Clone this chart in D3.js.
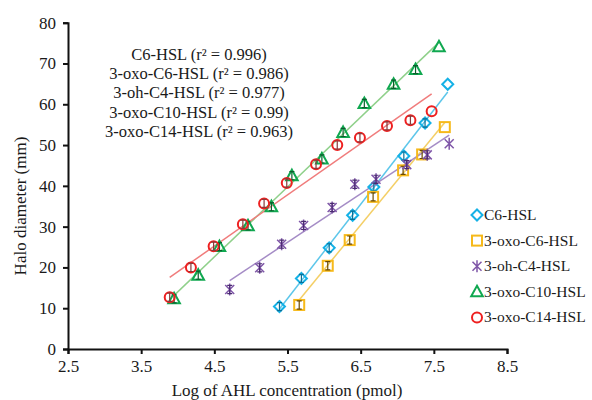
<!DOCTYPE html>
<html>
<head>
    <script src="https://cdnjs.cloudflare.com/ajax/libs/d3/7.8.5/d3.min.js"></script>
    <style>
        body { margin: 0; background: #fff; }
        svg text { font-family: "Liberation Serif", "Times New Roman", serif; fill: #1a1a1a; }
    </style>
</head>
<body>
    <div id="chart"></div>
    <script>
        // Data (x = log of AHL concentration, y = halo diameter in mm)
        const c6X = [5.39, 5.69, 6.07, 6.39, 6.68, 7.09, 7.38, 7.69];
        const c6Y = [10.4, 17.3, 24.8, 32.8, 39.7, 47.3, 55.4, 64.9];

        const oxoC6X = [5.66, 6.05, 6.35, 6.67, 7.08, 7.34, 7.65];
        const oxoC6Y = [10.8, 20.4, 26.7, 37.3, 43.8, 47.7, 54.4];

        const ohC4X = [4.71, 5.12, 5.42, 5.72, 6.11, 6.42, 6.71, 7.13, 7.41, 7.71];
        const ohC4Y = [14.6, 19.9, 25.7, 30.3, 34.7, 40.4, 41.6, 45.2, 47.6, 50.3];

        const oxoC10X = [3.95, 4.28, 4.57, 4.96, 5.28, 5.56, 5.97, 6.26, 6.55, 6.95, 7.25, 7.57];
        const oxoC10Y = [12.3, 18.1, 25.1, 30.2, 34.9, 42.5, 46.6, 53.1, 60.2, 64.9, 68.5, 74.1];

        const oxoC14X = [3.89, 4.18, 4.49, 4.89, 5.18, 5.49, 5.89, 6.18, 6.49, 6.86, 7.18, 7.47];
        const oxoC14Y = [12.7, 20.0, 25.2, 30.6, 35.7, 40.7, 45.3, 50.0, 51.8, 54.7, 56.1, 58.3];

        const seriesNames = ["C6-HSL", "3-oxo-C6-HSL", "3-oh-C4-HSL", "3-oxo-C10-HSL", "3-oxo-C14-HSL"];
        const r2Values = ["0.996", "0.986", "0.977", "0.99", "0.963"];

        const xTicks = [2.5, 3.5, 4.5, 5.5, 6.5, 7.5, 8.5];
        const yTicks = [0, 10, 20, 30, 40, 50, 60, 70, 80];
        const errHalf = 0.5;

        const series = [
            { name: seriesNames[0], xs: c6X, ys: c6Y, shape: "diamond", color: "#14b1e6", bar: "#0a6f96", line: "#5cc6ea" },
            { name: seriesNames[1], xs: oxoC6X, ys: oxoC6Y, shape: "square", color: "#f6b91a", bar: "#6b4a00", line: "#f4cf66" },
            { name: seriesNames[2], xs: ohC4X, ys: ohC4Y, shape: "star", color: "#7f56a8", bar: "#4a2a70", line: "#a58cc6" },
            { name: seriesNames[3], xs: oxoC10X, ys: oxoC10Y, shape: "triangle", color: "#10a850", bar: "#0b5e2c", line: "#8fd08a" },
            { name: seriesNames[4], xs: oxoC14X, ys: oxoC14Y, shape: "circle", color: "#ee2020", bar: "#8a3a3a", line: "#f07c7c" }
        ];

        const width = 592;
        const height = 400;

        const svg = d3.select("#chart")
            .append("svg")
            .attr("width", width)
            .attr("height", height);

        const x = d3.scaleLinear().domain([2.5, 8.5]).range([68, 507]);
        const y = d3.scaleLinear().domain([0, 80]).range([349, 22.7]);

        // axes
        svg.append("g")
            .attr("transform", "translate(0,349)")
            .call(d3.axisBottom(x).tickValues(xTicks).tickSize(5).tickPadding(6).tickFormat(d3.format(".1f")))
            .call(g => g.selectAll("text").style("font-size", "17px").attr("fill", "#1a1a1a"));

        svg.append("g")
            .attr("transform", "translate(68,0)")
            .call(d3.axisLeft(y).tickValues(yTicks).tickSize(5).tickPadding(7))
            .call(g => g.selectAll("text").style("font-size", "17px").attr("fill", "#1a1a1a"));

        svg.selectAll(".domain, .tick line")
            .attr("stroke", "#111")
            .attr("stroke-width", 2);

        // axis titles
        svg.append("text")
            .attr("x", 287)
            .attr("y", 396)
            .attr("text-anchor", "middle")
            .style("font-size", "17px")
            .text("Log of AHL concentration (pmol)");

        svg.append("text")
            .attr("transform", "translate(26,206) rotate(-90)")
            .attr("text-anchor", "middle")
            .style("font-size", "17px")
            .text("Halo diameter (mm)");

        // least squares trendline
        function fit(xs, ys) {
            const mx = d3.mean(xs), my = d3.mean(ys);
            let sxy = 0, sxx = 0;
            xs.forEach((v, i) => { sxy += (v - mx) * (ys[i] - my); sxx += (v - mx) * (v - mx); });
            const b = sxy / sxx;
            return { b: b, a: my - b * mx };
        }

        series.forEach(s => {
            const f = fit(s.xs, s.ys);
            const x0 = d3.min(s.xs), x1 = d3.max(s.xs);
            svg.append("line")
                .attr("x1", x(x0)).attr("y1", y(f.a + f.b * x0))
                .attr("x2", x(x1)).attr("y2", y(f.a + f.b * x1))
                .attr("stroke", s.line)
                .attr("stroke-width", 1.5);
        });

        function drawMarker(g, shape, color) {
            if (shape === "circle") {
                g.append("circle").attr("r", 5).attr("fill", "none").attr("stroke", color).attr("stroke-width", 2);
            } else if (shape === "square") {
                g.append("rect").attr("x", -5).attr("y", -5).attr("width", 10).attr("height", 10)
                    .attr("fill", "none").attr("stroke", color).attr("stroke-width", 2);
            } else if (shape === "diamond") {
                g.append("path").attr("d", "M0,-5.5L5.5,0L0,5.5L-5.5,0Z")
                    .attr("fill", "none").attr("stroke", color).attr("stroke-width", 2);
            } else if (shape === "triangle") {
                g.append("path").attr("d", "M0,-6L5.8,4.5L-5.8,4.5Z")
                    .attr("fill", "none").attr("stroke", color).attr("stroke-width", 2);
            } else {
                g.append("path").attr("d", "M-4.5,-4.5L4.5,4.5M-4.5,4.5L4.5,-4.5M0,-6L0,6")
                    .attr("fill", "none").attr("stroke", color).attr("stroke-width", 1.5);
            }
        }

        // points with small error bars
        series.forEach(s => {
            const pts = s.xs.map((v, i) => ({ x: v, y: s.ys[i], last: i === s.xs.length - 1 }));
            const g = svg.append("g");
            pts.forEach(p => {
                const m = g.append("g").attr("transform", `translate(${x(p.x)},${y(p.y)})`);
                drawMarker(m, s.shape, s.color);
                if (!p.last) {
                    const dy = y(0) - y(errHalf * 2);
                    m.append("path")
                        .attr("d", `M0,${-dy}L0,${dy}M-2.5,${-dy}L2.5,${-dy}M-2.5,${dy}L2.5,${dy}`)
                        .attr("stroke", s.bar)
                        .attr("stroke-width", 1.2)
                        .attr("fill", "none");
                }
            });
        });

        // r² annotation
        const note = svg.append("text")
            .attr("text-anchor", "middle")
            .style("font-size", "16.5px");
        seriesNames.forEach((n, i) => {
            note.append("tspan")
                .attr("x", 199)
                .attr("y", 60 + i * 19.2)
                .text(`${n} (r² = ${r2Values[i]})`);
        });

        // legend
        const legend = svg.append("g");
        series.forEach((s, i) => {
            const row = legend.append("g").attr("transform", `translate(477,${215 + i * 25.6})`);
            drawMarker(row, s.shape, s.color);
            row.append("text")
                .attr("x", 7)
                .attr("y", 5)
                .style("font-size", "15.5px")
                .text(s.name);
        });
    </script>
</body>
</html>
